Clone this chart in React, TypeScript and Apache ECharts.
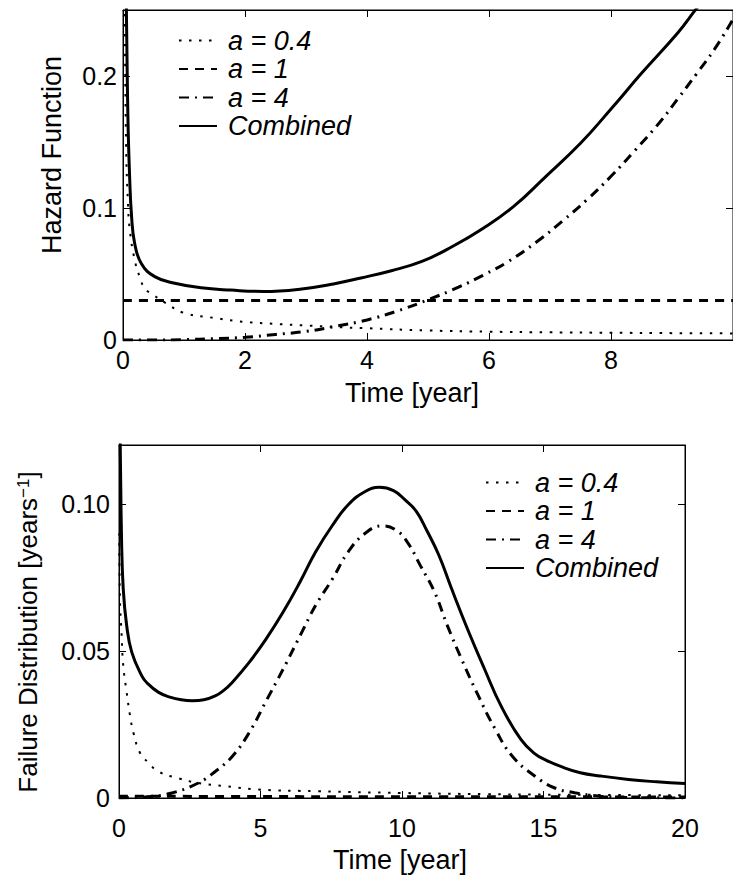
import React, { useEffect, useRef } from "react";
import * as echarts from "echarts";

const FONT = "'Liberation Sans', Arial, sans-serif";

const seriesNames = ["a = 0.4", "a = 1", "a = 4", "Combined"];

// ---- Top plot: hazard function ----
const hazT04 = [0.02, 0.05, 0.08, 0.11, 0.19, 0.28, 0.36, 0.5, 0.7, 1.0, 1.5, 2.0, 2.5, 3.0, 3.5, 4.0, 5.0, 6.0, 7.0, 8.0, 9.0, 10.0];
const hazV04 = [0.3, 0.15, 0.105, 0.084, 0.061, 0.047, 0.039, 0.034, 0.028, 0.0205, 0.0167, 0.0137, 0.0122, 0.011, 0.0098, 0.0089, 0.0072, 0.0063, 0.0058, 0.0055, 0.0052, 0.005];

const hazT1 = [0, 2, 4, 6, 8, 10];
const hazV1 = [0.03, 0.03, 0.03, 0.03, 0.03, 0.03];

const hazT4 = [0, 0.5, 1, 1.5, 2, 2.5, 3, 3.5, 4, 4.5, 5, 5.5, 5.9, 6.3, 6.8, 7.2, 7.6, 8.0, 8.4, 8.8, 9.1, 9.4, 9.7, 10];
const hazV4 = [0, 0, 0.0003, 0.001, 0.002, 0.0042, 0.0065, 0.0105, 0.0152, 0.022, 0.0305, 0.04, 0.049, 0.059, 0.075, 0.09, 0.106, 0.124, 0.144, 0.165, 0.183, 0.2015, 0.2205, 0.243];

const hazTC = [0.05, 0.08, 0.11, 0.14, 0.19, 0.3, 0.52, 0.85, 1.28, 1.77, 2.3, 2.9, 3.45, 3.9, 4.4, 4.9, 5.4, 5.9, 6.4, 6.9, 7.5, 8.0, 8.5, 9.1, 9.4, 9.6];
const hazVC = [0.27, 0.17, 0.122, 0.094, 0.0735, 0.058, 0.048, 0.043, 0.0395, 0.0378, 0.0368, 0.0385, 0.0425, 0.047, 0.0525, 0.0595, 0.0708, 0.0845, 0.101, 0.1225, 0.149, 0.175, 0.202, 0.233, 0.251, 0.262];

// ---- Bottom plot: failure distribution ----
const pdfT04 = [0.01, 0.035, 0.09, 0.15, 0.27, 0.39, 0.51, 0.74, 1.04, 1.39, 2.1, 2.8, 3.8, 4.9, 7.0, 10.0, 13.0, 16.0, 20.0];
const pdfV04 = [0.09, 0.067, 0.056, 0.045, 0.036, 0.028, 0.0222, 0.0154, 0.012, 0.009, 0.0067, 0.0051, 0.004, 0.0029, 0.0023, 0.0017, 0.0013, 0.0011, 0.0009];

const pdfT1 = [0, 5, 10, 15, 20];
const pdfV1 = [0.0006, 0.0005, 0.0004, 0.0004, 0.0003];

const pdfT4 = [0, 1.0, 1.9, 2.8, 3.4, 4.0, 4.6, 5.2, 5.8, 6.4, 6.95, 7.55, 8.1, 8.7, 9.3, 9.8, 10.2, 10.65, 11.15, 11.6, 12.1, 12.7, 13.3, 13.9, 14.7, 15.4, 16.1, 17, 18, 20];
const pdfV4 = [0, 0.0004, 0.0018, 0.0051, 0.009, 0.0141, 0.0222, 0.033, 0.0438, 0.0552, 0.0655, 0.0746, 0.0837, 0.09, 0.0925, 0.091, 0.0868, 0.079, 0.07, 0.0587, 0.0473, 0.0347, 0.0233, 0.0142, 0.0074, 0.0034, 0.0018, 0.0006, 0.0002, 0];

const pdfTC = [0.03, 0.09, 0.15, 0.27, 0.45, 0.8, 1.0, 1.4, 1.8, 2.2, 2.6, 3.0, 3.4, 3.7, 4.0, 4.6, 5.2, 5.8, 6.4, 6.95, 7.55, 8.1, 8.7, 9.2, 9.7, 10.1, 10.5, 10.9, 11.3, 11.75, 12.3, 12.9, 13.5, 14.2, 14.7, 15.1, 15.7, 16.3, 17.0, 18.0, 19.0, 20];
const pdfVC = [0.13, 0.088, 0.071, 0.0587, 0.0496, 0.0416, 0.039, 0.0359, 0.0343, 0.0334, 0.0331, 0.0334, 0.0347, 0.0366, 0.0393, 0.0461, 0.0541, 0.0632, 0.0735, 0.0837, 0.0928, 0.0997, 0.1042, 0.1056, 0.1045, 0.1014, 0.0975, 0.0905, 0.0826, 0.0712, 0.0578, 0.0442, 0.0313, 0.0199, 0.015, 0.0128, 0.0104, 0.0086, 0.0075, 0.0063, 0.0055, 0.0049];

const zip = (t: number[], v: number[]) => t.map((x, i) => [x, v[i]]);

const styles: any[] = [
  { type: [2.5, 7.5], width: 2, color: "#000" },
  { type: [9, 7], width: 3, color: "#000" },
  { type: [10, 6, 2, 6], width: 3, color: "#000" },
  { type: "solid", width: 3, color: "#000" },
];

function makeSeries(name: string, idx: number, data: number[][], axisIdx: number) {
  return {
    type: "line",
    name,
    data,
    xAxisIndex: axisIdx,
    yAxisIndex: axisIdx,
    symbol: "none",
    showSymbol: false,
    smooth: 0.45,
    clip: true,
    lineStyle: styles[idx],
    itemStyle: { color: "#000" },
    silent: true,
  };
}

const axisCommon = {
  type: "value",
  axisLine: { show: true, onZero: false, lineStyle: { color: "#000", width: 1 } },
  axisTick: { show: true, inside: true, length: 7, lineStyle: { color: "#000", width: 1 } },
  splitLine: { show: false },
};

const labelCommon = { color: "#000", fontSize: 25, fontFamily: FONT };
const nameStyle = { fontSize: 27, fontFamily: FONT, fill: "#000", align: "center", verticalAlign: "middle" };

export default function App() {
  const ref = useRef<HTMLDivElement>(null);
  useEffect(() => {
    if (!ref.current) return;
    const chart = echarts.init(ref.current, undefined, { renderer: "svg" });
    const legendCommon = {
      orient: "vertical",
      itemWidth: 38,
      itemHeight: 14,
      itemGap: 1.5,
      selectedMode: false,
      data: seriesNames,
      itemStyle: { color: "rgba(0,0,0,0)", borderWidth: 0, opacity: 0 },
      textStyle: {
        fontSize: 27,
        fontStyle: "italic",
        fontFamily: FONT,
        color: "#000",
        lineHeight: 25,
        padding: [0, 0, 0, 6],
      },
    };
    const option: any = {
      animation: false,
      backgroundColor: "#fff",
      grid: [
        { left: 123, top: 10, right: -1, bottom: 536, show: true, borderColor: "#000", borderWidth: 1 },
        { left: 119, top: 445, right: 48, bottom: 78, show: true, borderColor: "#000", borderWidth: 1 },
      ],
      xAxis: [
        { ...axisCommon, gridIndex: 0, min: 0, max: 10, interval: 2, position: "bottom",
          axisLabel: { ...labelCommon, margin: 7, showMaxLabel: false } },
        { ...axisCommon, gridIndex: 0, min: 0, max: 10, interval: 2, position: "top", axisLabel: { show: false } },
        { ...axisCommon, gridIndex: 1, min: 0, max: 20, interval: 5, position: "bottom",
          axisLabel: { ...labelCommon, margin: 17 } },
        { ...axisCommon, gridIndex: 1, min: 0, max: 20, interval: 5, position: "top", axisLabel: { show: false } },
      ],
      yAxis: [
        { ...axisCommon, gridIndex: 0, min: 0, max: 0.25, interval: 0.1, position: "left",
          axisLabel: { ...labelCommon, margin: 6, showMaxLabel: false, formatter: (v: number) => (v === 0 ? "0" : v.toFixed(1)) } },
        { ...axisCommon, gridIndex: 0, min: 0, max: 0.25, interval: 0.1, position: "right", axisLabel: { show: false } },
        { ...axisCommon, gridIndex: 1, min: 0, max: 0.12, interval: 0.05, position: "left",
          axisLabel: { ...labelCommon, margin: 9, showMaxLabel: false, formatter: (v: number) => (v === 0 ? "0" : v.toFixed(2)) } },
        { ...axisCommon, gridIndex: 1, min: 0, max: 0.12, interval: 0.05, position: "right", axisLabel: { show: false } },
      ],
      legend: [
        { ...legendCommon, left: 173, top: 22 },
        { ...legendCommon, left: 480, top: 464 },
      ],
      series: [
        makeSeries(seriesNames[0], 0, zip(hazT04, hazV04), 0),
        makeSeries(seriesNames[1], 1, zip(hazT1, hazV1), 0),
        makeSeries(seriesNames[2], 2, zip(hazT4, hazV4), 0),
        makeSeries(seriesNames[3], 3, zip(hazTC, hazVC), 0),
        makeSeries(seriesNames[0], 0, zip(pdfT04, pdfV04), 2),
        makeSeries(seriesNames[1], 1, zip(pdfT1, pdfV1), 2),
        makeSeries(seriesNames[2], 2, zip(pdfT4, pdfV4), 2),
        makeSeries(seriesNames[3], 3, zip(pdfTC, pdfVC), 2),
      ],
      graphic: [
        { type: "text", x: 412, y: 393, silent: true, style: { ...nameStyle, text: "Time [year]" } },
        { type: "text", x: 400, y: 860, silent: true, style: { ...nameStyle, text: "Time [year]" } },
        { type: "text", x: 52, y: 155, rotation: Math.PI / 2, silent: true, style: { ...nameStyle, text: "Hazard Function" } },
        { type: "text", x: 28, y: 632, rotation: Math.PI / 2, silent: true,
          style: {
            ...nameStyle,
            fontSize: 26,
            text: "{n|Failure Distribution [years}{s|\u22121}{n|]}",
            rich: {
              n: { fontSize: 26, fontFamily: FONT, fill: "#000" },
              s: { fontSize: 17, fontFamily: FONT, fill: "#000", verticalAlign: "top" },
            },
          } },
      ],
    };
    chart.setOption(option);
    return () => chart.dispose();
  }, []);
  return (
    <div
      ref={ref}
      style={{ position: "absolute", left: 0, top: 0, width: 733, height: 876, background: "#fff" }}
    />
  );
}
